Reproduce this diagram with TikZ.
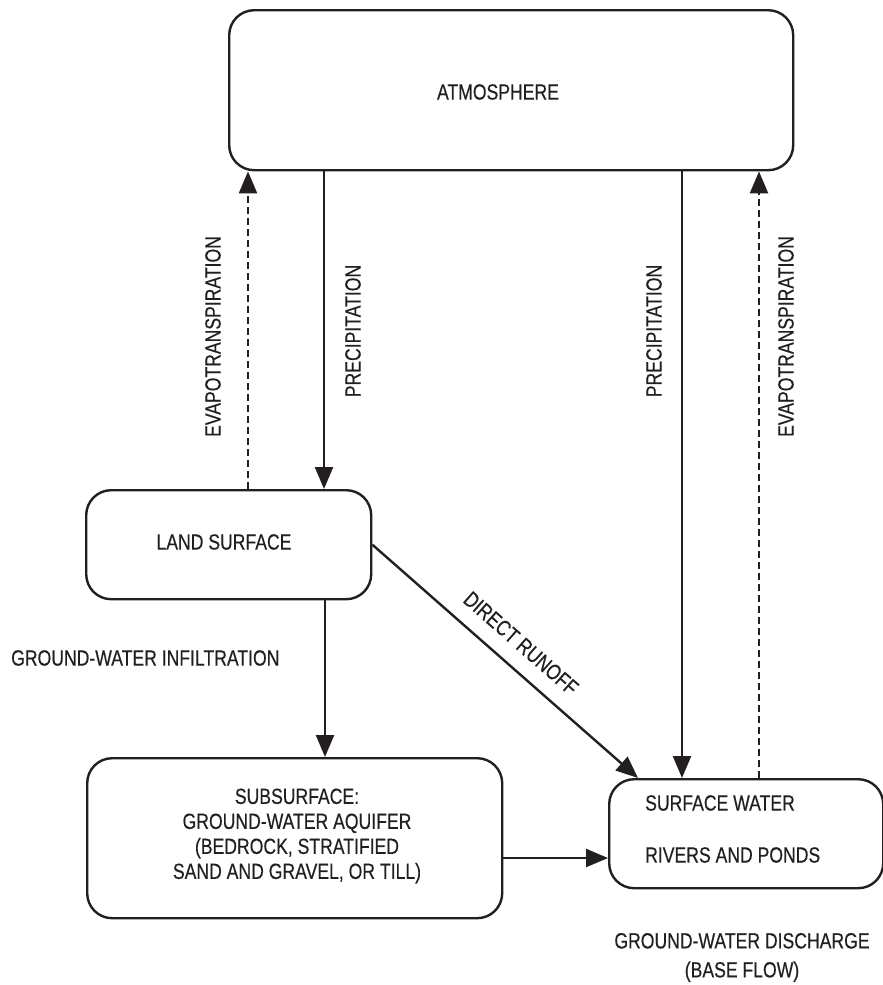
\documentclass[tikz,border=0pt]{standalone}
\usepackage{fontspec}
\setmainfont{Liberation Sans}[FakeStretch=0.8,FakeBold=0.4]
\usetikzlibrary{arrows.meta}
\definecolor{inkc}{HTML}{231F20}
\begin{document}
\begin{tikzpicture}[x=1pt,y=-1pt,
  ink/.style={draw=inkc, line width=2.4pt},
  box/.style={ink, rounded corners=25pt, inner sep=0pt, anchor=north west},
  lbl/.style={text=inkc, font=\fontsize{22}{25}\selectfont, inner sep=0pt},
  flow/.style={ink, -{Triangle[length=22pt,width=18pt]}},
  vapour/.style={flow, dash pattern=on 7pt off 4pt},
]
\useasboundingbox (0,0) rectangle (883,985);

% boxes
\node[box, minimum width=564pt, minimum height=160pt] (atm) at (228,9) {};
\node[box, minimum width=285pt, minimum height=109pt] (land) at (85,489) {};
\node[box, minimum width=415pt, minimum height=160pt] (sub) at (86,757) {};
\node[box, minimum width=274pt, minimum height=109pt] (sw) at (608,778) {};

% box texts
\node[lbl] (atmtxt) at (498,92) {ATMOSPHERE};
\node[lbl] (landtxt) at (224,542) {LAND SURFACE};
\node[lbl, align=center] (subtxt) at (297,836) {SUBSURFACE:\\GROUND-WATER AQUIFER\\(BEDROCK, STRATIFIED\\SAND AND GRAVEL, OR TILL)};
\node[lbl, anchor=west] (swtxt1) at (645,803) {SURFACE WATER};
\node[lbl, anchor=west] (swtxt2) at (645,855) {RIVERS AND PONDS};

% connectors
\draw[vapour] (land.north -| 248,0) -- (atm.south -| 248,0);
\draw[flow] (atm.south -| 324,0) -- (land.north -| 324,0);
\draw[flow] (atm.south -| 682,0) -- (sw.north -| 682,0);
\draw[vapour] (sw.north -| 759,0) -- (atm.south -| 759,0);
\draw[flow] (land.south -| 325,0) -- (sub.north -| 325,0);
\draw[flow] (land.east) -- (sw.north -| 638,0)
  node[lbl, midway, sloped, above=15pt] (runoff) {DIRECT RUNOFF};
\draw[flow] (sub.east |- 0,858) -- (sw.west |- 0,858);

% flow labels
\node[lbl, rotate=90] (evapL) at (213,336.5) {EVAPOTRANSPIRATION};
\node[lbl, rotate=90] (precL) at (353,331) {PRECIPITATION};
\node[lbl, rotate=90] (precR) at (654,331) {PRECIPITATION};
\node[lbl, rotate=90] (evapR) at (786,336.5) {EVAPOTRANSPIRATION};
\node[lbl, anchor=west] (infil) at (11,658) {GROUND-WATER INFILTRATION};
\node[lbl, align=center] (disch) at (742,957.5) {GROUND-WATER DISCHARGE\\[4pt](BASE FLOW)};
\end{tikzpicture}
\end{document}
